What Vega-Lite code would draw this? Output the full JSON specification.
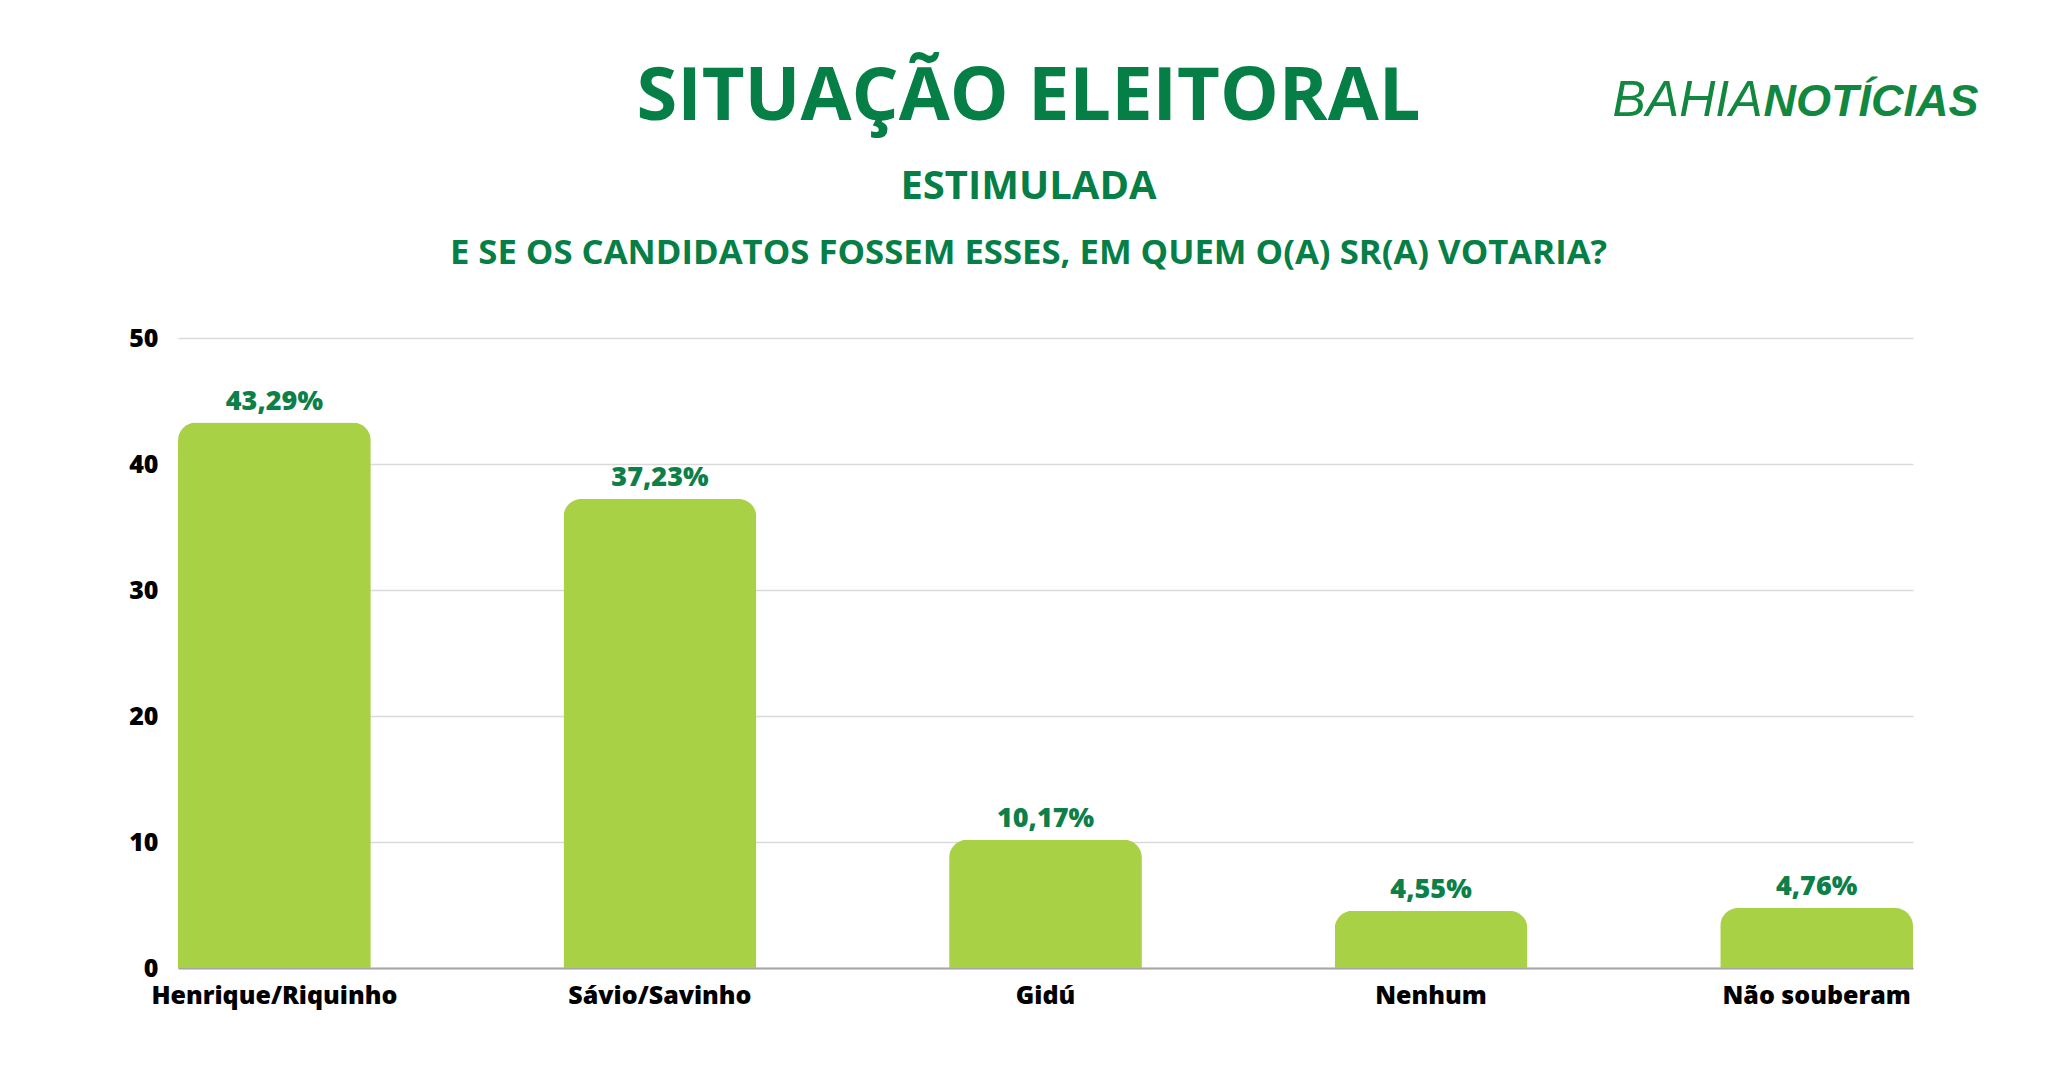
{
  "$schema": "https://vega.github.io/schema/vega-lite/v6.json",
  "autosize": "none",
  "width": 1735,
  "height": 630,
  "padding": {"left": 178, "top": 338, "right": 144, "bottom": 112},
  "background": "white",
  "config": {"view": {"stroke": null}, "font": "Open Sans"},
  "title": {
    "text": "SITUAÇÃO ELEITORAL",
    "subtitle": "ESTIMULADA",
    "anchor": "middle",
    "frame": "group",
    "dx": -17,
    "offset": -133,
    "font": "Open Sans",
    "fontSize": 74,
    "fontWeight": "bold",
    "color": "#067F46",
    "subtitleFont": "Open Sans",
    "subtitleFontSize": 40,
    "subtitleFontWeight": "bold",
    "subtitleColor": "#067F46",
    "subtitlePadding": 31
  },
  "data": {
    "values": [
      {"cat": "Henrique/Riquinho", "value": 43.29, "label": "43,29%"},
      {"cat": "Sávio/Savinho", "value": 37.23, "label": "37,23%"},
      {"cat": "Gidú", "value": 10.17, "label": "10,17%"},
      {"cat": "Nenhum", "value": 4.55, "label": "4,55%"},
      {"cat": "Não souberam", "value": 4.76, "label": "4,76%"}
    ]
  },
  "resolve": {"axis": {"y": "independent"}},
  "layer": [
    {
      "encoding": {
        "x": {
          "field": "cat",
          "type": "nominal",
          "sort": null,
          "scale": {"paddingInner": 0.5, "paddingOuter": 0},
          "axis": {
            "title": "BAHIA",
            "titleX": 1434,
            "titleY": -853,
            "titleAngle": 0,
            "titleAlign": "left",
            "titleBaseline": "alphabetic",
            "titleFont": "Liberation Sans",
            "titleFontStyle": "italic",
            "titleFontWeight": "normal",
            "titleFontSize": 50,
            "titleColor": "#12873F",
            "labelAngle": 0,
            "labelLimit": 0,
            "labelFont": "Open Sans",
            "labelFontSize": 25,
            "labelFontWeight": 800,
            "labelColor": "#000000",
            "labelPadding": 15,
            "ticks": false,
            "tickSize": 0,
            "domainColor": "#A6A6A6",
            "domainWidth": 2,
            "grid": false
          }
        },
        "y": {
          "field": "value",
          "type": "quantitative",
          "scale": {"domain": [0, 50], "nice": false},
          "axis": {
            "values": [0, 10, 20, 30, 40, 50],
            "title": "E SE OS CANDIDATOS FOSSEM ESSES, EM QUEM O(A) SR(A) VOTARIA?",
            "titleX": 850,
            "titleY": -75,
            "titleAngle": 0,
            "titleAlign": "center",
            "titleBaseline": "alphabetic",
            "titleFont": "Open Sans",
            "titleFontSize": 34.7,
            "titleFontWeight": "bold",
            "titleColor": "#067F46",
            "labelFont": "Open Sans",
            "labelFontSize": 25,
            "labelFontWeight": 800,
            "labelColor": "#000000",
            "labelPadding": 20,
            "ticks": false,
            "tickSize": 0,
            "domain": false,
            "grid": true,
            "gridColor": "#DADADA",
            "gridWidth": 1.5
          }
        }
      },
      "layer": [
        {
          "mark": {"type": "bar", "color": "#A9D146", "cornerRadiusTopLeft": 18, "cornerRadiusTopRight": 18}
        },
        {
          "mark": {"type": "text", "baseline": "alphabetic", "dy": -13, "font": "Open Sans", "fontSize": 27, "fontWeight": 800, "color": "#0D7F49"},
          "encoding": {"text": {"field": "label"}}
        }
      ]
    },
    {
      "mark": {"type": "point", "opacity": 0},
      "encoding": {
        "y": {
          "field": "value",
          "type": "quantitative",
          "axis": {
            "orient": "right",
            "title": "NOTÍCIAS",
            "titleX": -150,
            "titleY": -223,
            "titleAngle": 0,
            "titleAlign": "left",
            "titleBaseline": "alphabetic",
            "titleFont": "Liberation Sans",
            "titleFontStyle": "italic",
            "titleFontWeight": "bold",
            "titleFontSize": 45,
            "titleColor": "#12873F",
            "labels": false,
            "ticks": false,
            "domain": false,
            "grid": false
          }
        }
      }
    }
  ]
}
